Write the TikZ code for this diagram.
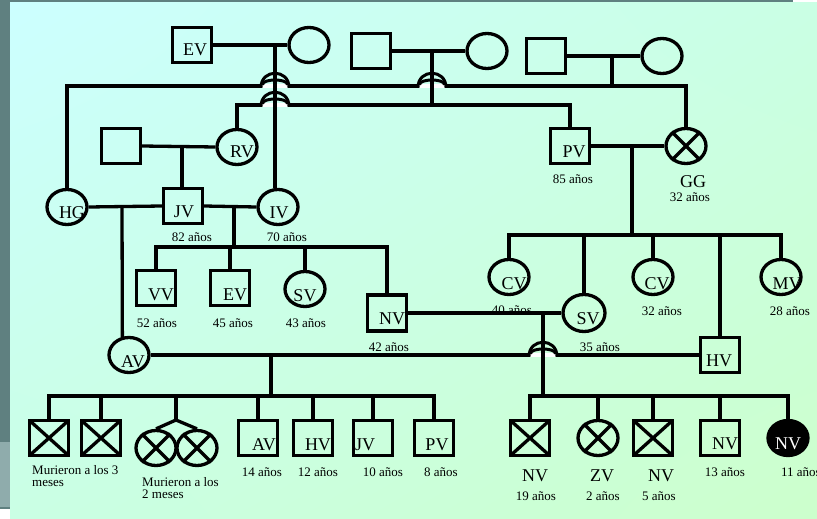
\documentclass[tikz,border=0pt]{standalone}
\usepackage{fontspec}
\setmainfont{Liberation Serif}
\usetikzlibrary{shapes.geometric,shadings}
\definecolor{tealA}{RGB}{95,128,128}
\definecolor{tealB}{RGB}{143,172,172}
\definecolor{bgA}{RGB}{204,255,255}
\definecolor{bgB}{RGB}{202,255,228}
\definecolor{bgC}{RGB}{204,255,204}
\newcommand\myhop[2]{%
  \fill[white] (#1-13,#2-2.2) rectangle (#1+13,#2+2);
  \draw[line width=3pt] (#1-12.5,#2-1.5) .. controls (#1-12,#2-7.5) and (#1+12,#2-7.5) .. (#1+12.5,#2-1.5);
  \draw[line width=3pt] (#1-14,#2+1.5) .. controls (#1-14,#2-17.5) and (#1+14,#2-17.5) .. (#1+14,#2+1.5);
}
\begin{document}
\begin{tikzpicture}[x=1pt,y=-1pt,
 conn/.style={line width=3.3pt},
 male/.style={draw, line width=3.3pt, rectangle, minimum width=39pt, minimum height=34.5pt, inner sep=0pt},
 female/.style={draw, line width=3.3pt, ellipse, minimum width=40pt, minimum height=35pt, inner sep=0pt},
 nm/.style={font=\fontsize{18}{18}\selectfont, inner sep=0pt},
 age/.style={font=\fontsize{13}{12}\selectfont, inner sep=0pt},
 nl/.style n args={3}{label={[nm,xshift=#1pt,yshift=-#2pt]center:#3}},
 xs/.style={path picture={\draw[line width=3.3pt] (path picture bounding box.north west) -- (path picture bounding box.south east) (path picture bounding box.north east) -- (path picture bounding box.south west);}},
 xo/.style={line width=3.3pt},
]
\useasboundingbox (0,0) rectangle (817,519);
% background
\fill[white] (0,0) rectangle (817,519);
\fill[tealA] (0,0) rectangle (793,3);
\fill[tealA] (0,0) rectangle (10,442);
\fill[tealB] (0,442) rectangle (10,507);
\fill[tealA] (0,507) rectangle (10,508.5);
\shade[upper left=bgA, upper right=bgB, lower left=bgB, lower right=bgC] (10,3) rectangle (817,519);

% generation 1
\node[male, nl={3}{5}{EV}] (ev0) at (192,45) {};
\node[female] (f0) at (309,45) {};
\node[male] (m2) at (371,51) {};
\node[female] (f2) at (487,51) {};
\node[male] (m3) at (546,56) {};
\node[female] (f3) at (662,56) {};

% generation 2
\node[male] (m4) at (121,146) {};
\node[female, nl={5}{5}{RV}] (rv) at (237,147) {};
\node[male, nl={4}{6}{PV}] (pv) at (570,146) {};
\node[female] (gg) at (686,146) {};
\draw[xo] (gg.45) -- (gg.225) (gg.135) -- (gg.315);
\node[age] (a85) at (573,179) {85 años};
\node[nm] (ggn) at (693,182) {GG};
\node[age] (a32g) at (690,197) {32 años};

% generation 3
\node[female, nl={5}{6}{HG}] (hg) at (67,207) {};
\node[male, nl={1}{6}{JV}] (jv) at (183,206) {};
\node[female, nl={1}{6}{IV}] (iv) at (278,207) {};
\node[age] (a82) at (192,237) {82 años};
\node[age] (a70) at (287,237) {70 años};

% generation 4
\node[male, nl={5}{7}{VV}] (vv) at (156,288) {};
\node[male, nl={5}{7}{EV}] (ev) at (230,288) {};
\node[female, nl={0}{7}{SV}] (sv) at (305,289) {};
\node[male, minimum height=36pt, nl={5}{6}{NV}] (nv) at (387,313) {};
\node[female, nl={4}{7}{AV}] (av) at (129,355) {};
\node[female, nl={5}{7}{CV}] (cv1) at (509,277) {};
\node[female, minimum width=42pt, minimum height=37pt, nl={4}{6}{SV}] (sv2) at (584,313) {};
\node[female, nl={4}{7}{CV}] (cv2) at (653,277) {};
\node[female, nl={6}{7}{MV}] (mv) at (781,277) {};
\node[male, nl={-1}{6}{HV}] (hv) at (720,355) {};
\node[age] (a52) at (157,323) {52 años};
\node[age] (a45) at (233,323) {45 años};
\node[age] (a43) at (306,323) {43 años};
\node[age] (a42) at (389,347) {42 años};
\node[age] (a40) at (512,310) {40 años};
\node[age] (a35) at (600,347) {35 años};
\node[age] (a32) at (662,311) {32 años};
\node[age] (a28) at (790,311) {28 años};

% generation 5
\node[male, minimum height=35pt, xs] (b1) at (49,438) {};
\node[male, minimum height=35pt, xs] (b2) at (101,438) {};
\node[female] (t1) at (156,448) {};
\node[female] (t2) at (197,448) {};
\draw[xo] (t1.45) -- (t1.225) (t1.135) -- (t1.315);
\draw[xo] (t2.45) -- (t2.225) (t2.135) -- (t2.315);
\node[male, minimum height=35pt, nl={6}{7}{AV}] (bav) at (258,438) {};
\node[male, minimum height=35pt, nl={5}{7}{HV}] (bhv) at (313,438) {};
\node[male, minimum height=35pt, nl={-8}{7}{JV}] (bjv) at (373,438) {};
\node[male, minimum height=35pt, nl={3}{7}{PV}] (bpv) at (434,438) {};
\node[male, minimum height=35pt, xs] (c1) at (530,438) {};
\node[female] (zv) at (598,438) {};
\draw[xo] (zv.45) -- (zv.225) (zv.135) -- (zv.315);
\node[male, minimum height=35pt, xs] (c3) at (653,438) {};
\node[male, minimum height=35pt, nl={5}{6}{NV}] (c4) at (720,438) {};
\node[female, fill=black, label={[nm,text=white,yshift=-6pt]center:NV}] (c5) at (788,438) {};

\node[age, align=left, anchor=north west] (mur3) at (32,465.5) {Murieron a los 3\\meses};
\node[age, align=left, anchor=north west] (mur2) at (142,477.5) {Murieron a los\\2 meses};
\node[age] (a14) at (262,472) {14 años};
\node[age] (a12) at (318,472) {12 años};
\node[age] (a10) at (383,472) {10 años};
\node[age] (a8) at (441,472) {8 años};
\node[nm] (nvn1) at (535,476) {NV};
\node[age] (a19) at (536,496) {19 años};
\node[nm] (zvn) at (602,476) {ZV};
\node[age] (a2) at (603,496) {2 años};
\node[nm] (nvn3) at (661,476) {NV};
\node[age] (a5) at (659,496) {5 años};
\node[age] (a13) at (725,472) {13 años};
\node[age] (a11) at (801,472) {11 años};

% junction coordinates
\coordinate (j1) at (275,45);
\coordinate (j2) at (432,51);
\coordinate (j3) at (612,56);
\coordinate (j4) at (182,146);
\coordinate (j5) at (632,146);
\coordinate (j6) at (122,207);
\coordinate (j7) at (234,207);
\coordinate (j8) at (271,355);
\coordinate (j9) at (543,313);
\coordinate (h86) at (400,86);
\coordinate (h105) at (400,105);
\coordinate (h235) at (632,235);
\coordinate (h247) at (234,247);
\coordinate (hb1) at (271,396);
\coordinate (hb2) at (543,396);
\coordinate (tw) at (176,420);

% couple lines
\draw[conn] (ev0.east) -- (f0.west);
\draw[conn] (m2.east) -- (f2.west);
\draw[conn] (m3.east) -- (f3.west);
\draw[conn] (m4.east) -- (rv.west);
\draw[conn] (pv.east) -- (gg.west);
\draw[conn] (hg.east) -- (jv.west);
\draw[conn] (jv.east) -- (iv.west);
\draw[conn] (av.east) -- (hv.west);
\draw[conn] (nv.east) -- (sv2.west);

% sibship lines
\draw[conn] (hg.north) |- (h86) -| (gg.north);
\draw[conn] (j3) -- (j3 |- h86);
\draw[conn] (rv.north) |- (h105) -| (pv.north);
\draw[conn] (j4) -- (j4 |- jv.north);
\draw[conn] (j6) -- (av.110);
\draw[conn] (vv.north) |- (h247) -| (nv.north);
\draw[conn] (j7) -- (h247);
\draw[conn] (ev.north) -- (ev.north |- h247);
\draw[conn] (sv.north) -- (sv.north |- h247);
\draw[conn] (cv1.north) |- (h235) -| (mv.north);
\draw[conn] (j5) -- (h235);
\draw[conn] (sv2.north) -- (sv2.north |- h235);
\draw[conn] (cv2.north) -- (cv2.north |- h235);
\draw[conn] (hv.north) -- (hv.north |- h235);
\draw[conn] (b1.north) |- (hb1) -| (bpv.north);
\draw[conn] (j8) -- (hb1);
\draw[conn] (b2.north) -- (b2.north |- hb1);
\draw[conn] (tw |- hb1) -- (tw);
\draw[conn] (t1.north) -- (tw) -- (t2.north);
\draw[conn] (bav.north) -- (bav.north |- hb1);
\draw[conn] (bhv.north) -- (bhv.north |- hb1);
\draw[conn] (bjv.north) -- (bjv.north |- hb1);
\draw[conn] (c1.north) |- (hb2) -| (c5.north);
\draw[conn] (zv.north) -- (zv.north |- hb2);
\draw[conn] (c3.north) -- (c3.north |- hb2);
\draw[conn] (c4.north) -- (c4.north |- hb2);

% line jumps
\myhop{275}{86}
\myhop{275}{105}
\myhop{432}{86}
\myhop{543}{355}

% descents drawn through the jumps
\draw[conn] (j1) -- (j1 |- iv.north);
\draw[conn] (j2) -- (j2 |- h105);
\draw[conn] (j9) -- (hb2);
\end{tikzpicture}
\end{document}
